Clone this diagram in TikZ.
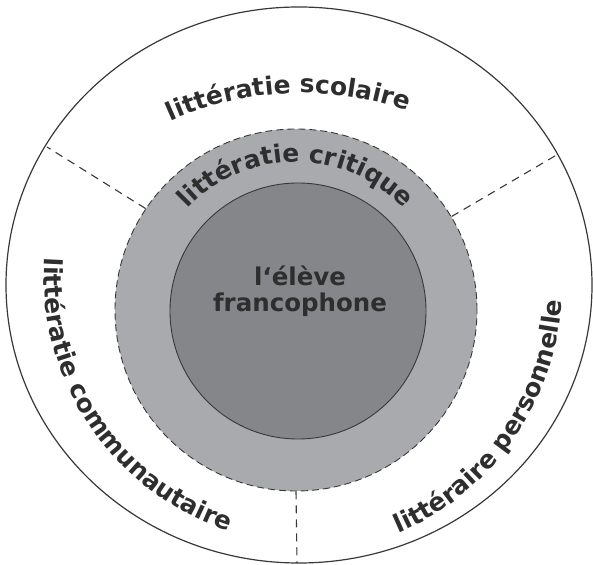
\documentclass[tikz,border=0pt]{standalone}
\usepackage{fontspec}
\setmainfont{DejaVu Sans}
\usetikzlibrary{positioning, shapes.geometric, decorations.text}
\definecolor{ringgray}{RGB}{169,170,174}
\definecolor{coregray}{RGB}{133,134,138}
\newcommand{\fillcolorring}{ringgray}
\newcommand{\fillcolorcore}{coregray}
\newcommand{\linecolor}{black!78}
\newcommand{\labelcolor}{black!82}
\newcommand{\labelfont}{\fontsize{24.5}{26}\selectfont\bfseries}
\newcommand{\arcfont}{\fontsize{25}{27}\selectfont\bfseries}
\tikzset{
	ringtext/.style={decorate, decoration={text along path, text align=center,
		text color=\labelcolor, text={|\arcfont|#1}}},
	divider/.style={draw=\linecolor, dash pattern=on 8pt off 6pt, line width=1.1pt},
}

\begin{document}
\begin{tikzpicture}[x=1pt, y=1pt, font=\labelfont]
	\useasboundingbox (0,0) rectangle (593,564);
	% rings
	\node[ellipse, draw=\linecolor, line width=1.2pt, minimum width=586pt, minimum height=556pt, inner sep=0] (outer) at (299,279) {};
	\node[circle, draw=\linecolor, dash pattern=on 7pt off 4pt, line width=0.9pt, fill=\fillcolorring, minimum size=362pt, inner sep=0] (ring) at (296,254) {};
	\node[circle, draw=\linecolor, line width=0.9pt, fill=\fillcolorcore, minimum size=256pt, inner sep=0] (core) at (298,253) {};
	\node[align=center, text=\labelcolor, inner sep=0] (eleve) at (300,273) {l‘élève\\francophone};

	% dividers
	\coordinate (d1) at (47,417);
	\coordinate (d2) at (560,411);
	\coordinate (d3) at (297,1);
	\draw[divider] (ring.146.5) -- (d1);
	\draw[divider] (ring.31.5) -- (d2);
	\draw[divider] (ring.270) -- (d3);

	% texts on the rings
	\path[ringtext={littératie critique}] (296,254) ++(150:148) arc[start angle=150, end angle=30, radius=148];
	\path[ringtext={littératie scolaire}] (302,151) ++(127.5:320) arc[start angle=127.5, end angle=57.5, radius=320];
	\path[ringtext={littératie communautaire}] (312,288) ++(160:268) arc[start angle=160, end angle=268, radius=268];
	\path[ringtext={littéraire personnelle}] (293,278) ++(279:269) arc[start angle=279, end angle=371, radius=269];
\end{tikzpicture}
\end{document}
